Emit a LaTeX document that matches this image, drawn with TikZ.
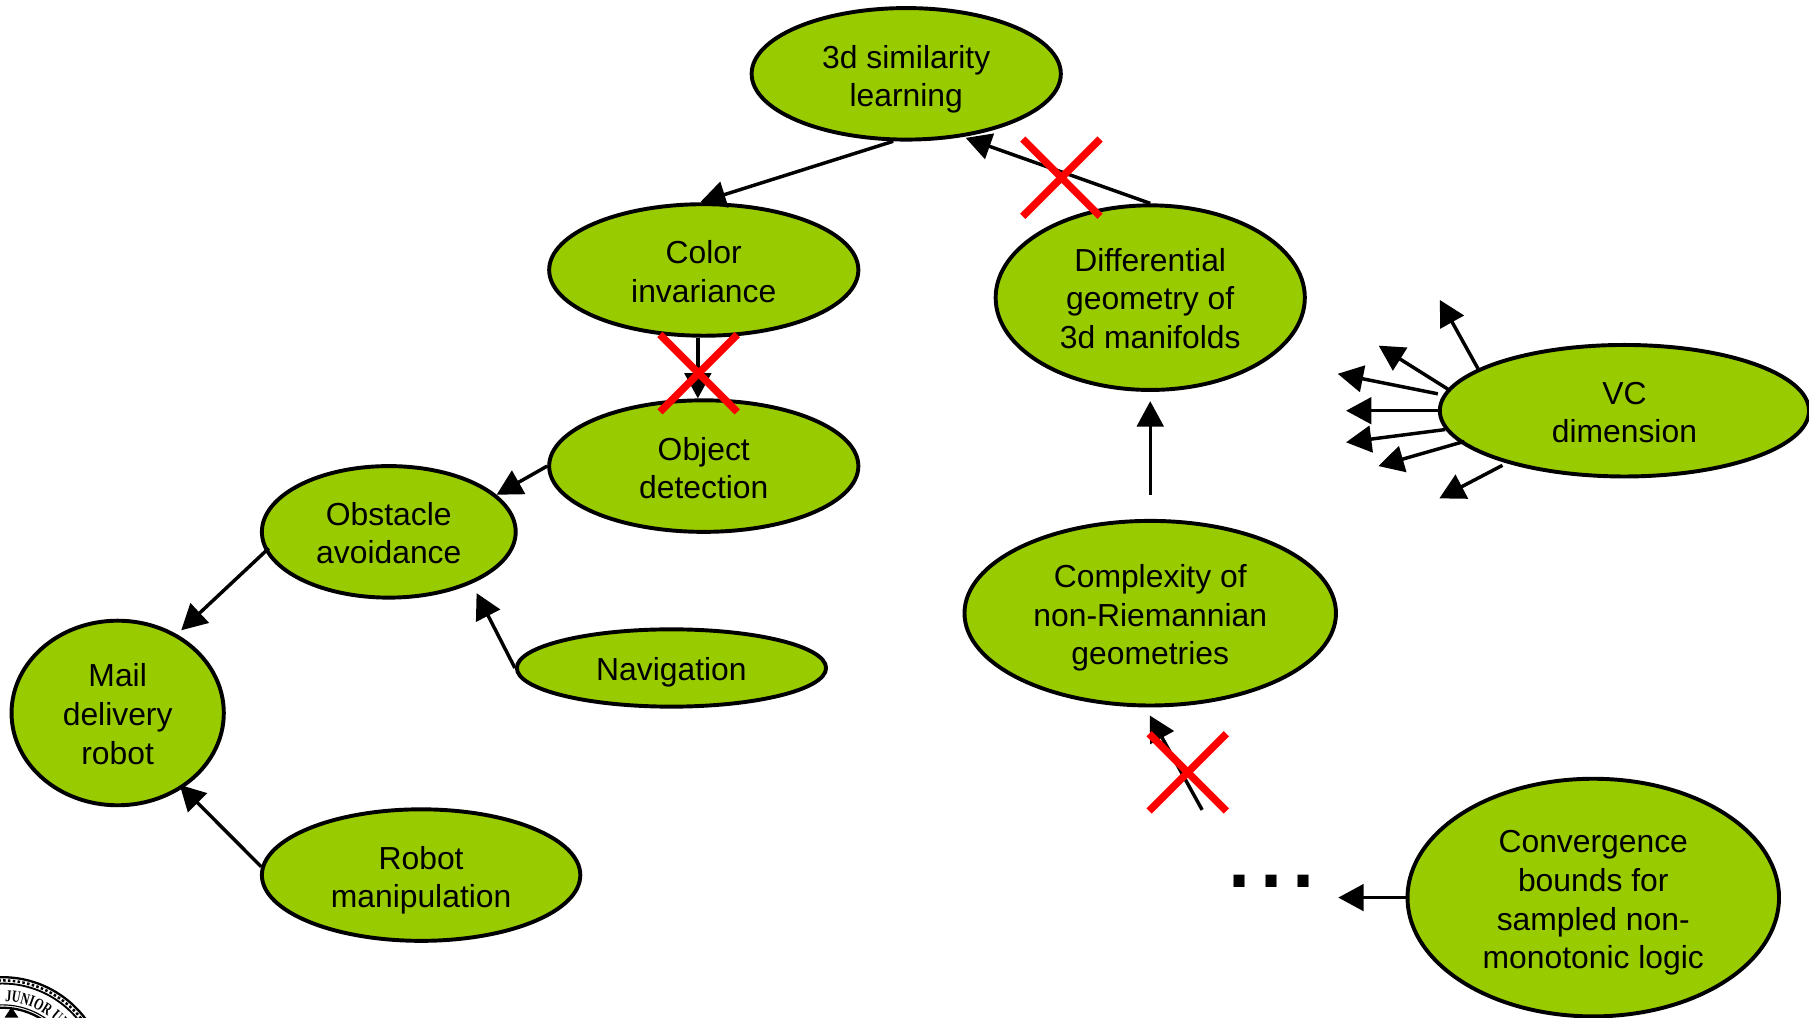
\documentclass[tikz,border=0pt]{standalone}
\usepackage{fontspec}
\setmainfont{Liberation Sans}
\newfontfamily\sealfont[FakeStretch=0.72]{Liberation Serif}
\usetikzlibrary{shapes.geometric,arrows.meta,decorations.text}
\definecolor{nodegreen}{HTML}{99CC00}
\definecolor{crossred}{HTML}{FF0000}
\tikzset{
  x=0.5pt,y=-0.5pt,
  topic/.style={ellipse,draw=black,fill=nodegreen,line width=1.7pt,inner sep=0pt,align=center,
    font=\fontsize{13.8}{16.75}\selectfont,text=black},
  arr/.style={line width=1.5pt,-{Triangle[length=11pt,width=11.5pt]}},
  crossline/.style={crossred,line width=3.2pt},
}
\newcommand{\redcross}[2]{\draw[crossline] (#1-33.5,#2-33.5) -- (#1+33.5,#2+33.5);
  \draw[crossline] (#1-33.5,#2+33.5) -- (#1+33.5,#2-33.5);}
% pushes the text of a node down by #1 (pt) without moving its ellipse
\newcommand{\tdn}[1]{\rule{0pt}{\dimexpr 10pt+2\dimexpr #1pt\relax\relax}}
\begin{document}
\begin{tikzpicture}
\useasboundingbox (0,0) rectangle (1568,882);
% seal, cut off by the page
\begin{scope}
\clip (0,0) rectangle (1568,882);
\draw[line width=1pt] (2,937) circle[radius=90];
\draw[line width=1.1pt,densely dotted] (2,937) circle[radius=87.2];
\draw[line width=0.8pt] (2,937) circle[radius=84.5];
\draw[line width=0.5pt] (2,937) circle[radius=66];
\draw[line width=1pt] (2,937) circle[radius=63.5];
\path[decorate,decoration={text along path,text align={left},
   text={|\sealfont\bfseries\fontsize{7.2}{8}\selectfont|JUNIOR UN}}]
   (2,937) ++(272:69) arc[start angle=272,end angle=350,radius=69];
\fill (10,873) -- (4,882) -- (16,882) -- cycle;
\end{scope}
% nodes
\node[topic,minimum width=134pt,minimum height=57pt] (sim) at (785.5,64) {\tdn{2.4}3d similarity\\learning};
\node[topic,minimum width=134pt,minimum height=57pt] (color) at (610,234) {\tdn{0.8}Color\\invariance};
\node[topic,minimum width=134pt,minimum height=57pt] (object) at (610,404) {\tdn{0.8}Object\\detection};
\node[topic,minimum width=134pt,minimum height=80pt] (diff) at (997,258) {\tdn{0.4}Differential\\geometry of\\3d manifolds};
\node[topic,minimum width=160pt,minimum height=57pt] (vc) at (1408,356) {\tdn{0.6}VC\\dimension};
\node[topic,minimum width=110pt,minimum height=57pt] (obstacle) at (337,461) {\tdn{0.5}Obstacle\\avoidance};
\node[topic,minimum width=134pt,minimum height=33.5pt] (nav) at (582,579) {\tdn{1.7}Navigation};
\node[topic,minimum width=92pt,minimum height=80pt] (mail) at (102,618) {\tdn{0.5}Mail\\delivery\\robot};
\node[topic,minimum width=138pt,minimum height=57pt] (robot) at (365,758.5) {\tdn{2.2}Robot\\manipulation};
\node[topic,minimum width=161pt,minimum height=80pt] (complexity) at (997,531.5) {\tdn{2}Complexity of\\non-Riemannian\\geometries};
\node[topic,minimum width=161pt,minimum height=103pt] (conv) at (1381,778) {\tdn{2.2}Convergence\\bounds for\\sampled non-\\monotonic logic};
\node[anchor=base west,inner sep=0pt,font=\fontsize{50}{50}\selectfont] (dots) at (1060,769) {...};
% free ends
\coordinate (cxfree) at (1042,702);
\coordinate (dotsgap) at (1160,778);
\coordinate (vca) at (1248,260);
\coordinate (vcb) at (1195,299.6);
\coordinate (vcc) at (1159.5,324);
\coordinate (vcd) at (1166.7,356);
\coordinate (vce) at (1166.7,383.4);
\coordinate (vcf) at (1194.7,404);
\coordinate (vcg) at (1247.6,432);
% connectors
\draw[arr] (sim.259.7) -- (color.93);
\draw[arr,shorten >=1.2pt] (diff.north) -- (sim.312);
\draw[arr] (color.265) -- (object.95);
\draw[arr] (object.west) -- (obstacle.19);
\draw[arr,shorten <=-2pt,shorten >=2.5pt] (obstacle.189) -- (mail.53);
\draw[arr,shorten >=4.6pt] (nav.west) -- (obstacle.328);
\draw[arr,shorten >=-2pt] (robot.177) -- (mail.311);
\draw[arr,shorten <=10.5pt,shorten >=4pt] (complexity.north) -- (diff.south);
\draw[arr,shorten >=4pt] (cxfree) -- (complexity.267);
\draw[arr] (conv.west) -- (dotsgap);
\draw[arr] (vc.164.5) -- (vca);
\draw[arr] (vc.173.3) -- (vcb);
\draw[arr,shorten <=2.3pt] (vc.175.9) -- (vcc);
\draw[arr] (vc.west) -- (vcd);
\draw[arr] (vc.186.1) -- (vce);
\draw[arr,shorten <=-2pt] (vc.191.9) -- (vcf);
\draw[arr,shorten <=2pt] (vc.204.8) -- (vcg);
% red crosses
\redcross{920}{154}
\redcross{605.5}{323.5}
\redcross{1029.5}{669.5}
\end{tikzpicture}
\end{document}
